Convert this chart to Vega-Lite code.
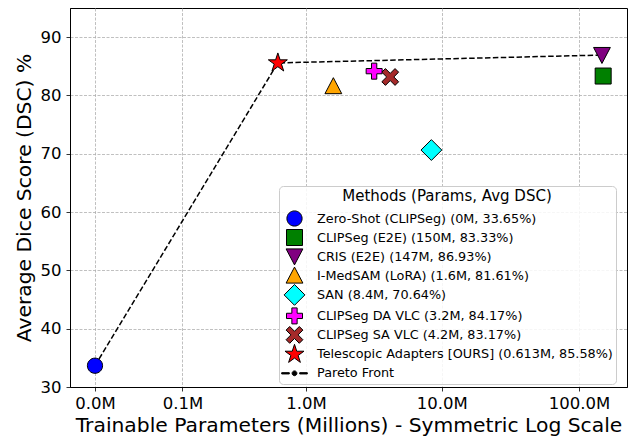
{
  "$schema": "https://vega.github.io/schema/vega-lite/v6.json",
  "width": 557,
  "height": 379,
  "autosize": {"type": "none"},
  "padding": {"left": 70, "top": 8, "right": 5, "bottom": 50},
  "background": "white",
  "datasets": {
    "methods": [
      {"label": "Zero-Shot (CLIPSeg) (0M, 33.65%)", "params": 0, "dsc": 33.65},
      {"label": "CLIPSeg (E2E) (150M, 83.33%)", "params": 150, "dsc": 83.33},
      {"label": "CRIS (E2E) (147M, 86.93%)", "params": 147, "dsc": 86.93},
      {"label": "I-MedSAM (LoRA) (1.6M, 81.61%)", "params": 1.6, "dsc": 81.61},
      {"label": "SAN (8.4M, 70.64%)", "params": 8.4, "dsc": 70.64},
      {"label": "CLIPSeg DA VLC (3.2M, 84.17%)", "params": 3.2, "dsc": 84.17},
      {"label": "CLIPSeg SA VLC (4.2M, 83.17%)", "params": 4.2, "dsc": 83.17},
      {"label": "Telescopic Adapters [OURS] (0.613M, 85.58%)", "params": 0.613, "dsc": 85.58}
    ],
    "pareto": [
      {"params": 0, "dsc": 33.65},
      {"params": 0.613, "dsc": 85.58},
      {"params": 147, "dsc": 86.93}
    ]
  },
  "layer": [
    {
      "data": {"name": "pareto"},
      "mark": {"type": "line", "color": "black", "strokeWidth": 1.5, "strokeDash": [5.5, 2.4]},
      "encoding": {
        "x": {"field": "params", "type": "quantitative"},
        "y": {"field": "dsc", "type": "quantitative"}
      }
    },
    {
      "data": {"name": "methods"},
      "mark": {"type": "point", "filled": true, "opacity": 1, "stroke": "black", "strokeWidth": 1, "size": 256},
      "encoding": {
        "x": {
          "field": "params", "type": "quantitative",
          "scale": {"type": "symlog", "constant": 0.03, "domain": [-0.0156, 223.7], "nice": false, "zero": false},
          "axis": {"values": [0, 0.1, 1, 10, 100], "labelExpr": "format(datum.value, '.1f') + 'M'", "title": "Trainable Parameters (Millions) - Symmetric Log Scale", "labelPadding": 4, "titlePadding": 4}
        },
        "y": {
          "field": "dsc", "type": "quantitative",
          "scale": {"domain": [30, 95], "nice": false, "zero": false},
          "axis": {"values": [30, 40, 50, 60, 70, 80, 90], "title": "Average Dice Score (DSC) %", "labelPadding": 5, "titlePadding": 6}
        },
        "color": {
          "field": "label", "type": "nominal",
          "scale": {
            "domain": ["Zero-Shot (CLIPSeg) (0M, 33.65%)", "CLIPSeg (E2E) (150M, 83.33%)", "CRIS (E2E) (147M, 86.93%)", "I-MedSAM (LoRA) (1.6M, 81.61%)", "SAN (8.4M, 70.64%)", "CLIPSeg DA VLC (3.2M, 84.17%)", "CLIPSeg SA VLC (4.2M, 83.17%)", "Telescopic Adapters [OURS] (0.613M, 85.58%)", "Pareto Front"],
            "range": ["#0000ff", "#008000", "#800080", "#ffa500", "#00ffff", "#ff00ff", "#a52a2a", "#ff0000", "#000000"]
          },
          "legend": {"title": "Methods (Params, Avg DSC)"}
        },
        "shape": {
          "field": "label", "type": "nominal",
          "scale": {
            "domain": ["Zero-Shot (CLIPSeg) (0M, 33.65%)", "CLIPSeg (E2E) (150M, 83.33%)", "CRIS (E2E) (147M, 86.93%)", "I-MedSAM (LoRA) (1.6M, 81.61%)", "SAN (8.4M, 70.64%)", "CLIPSeg DA VLC (3.2M, 84.17%)", "CLIPSeg SA VLC (4.2M, 83.17%)", "Telescopic Adapters [OURS] (0.613M, 85.58%)", "Pareto Front"],
            "range": [
              "M0.95,0A0.95,0.95,0,1,1,-0.95,0A0.95,0.95,0,1,1,0.95,0Z",
              "M-1,-1H1V1H-1Z",
              "M-1.05,-0.95L1.05,-0.95L0,1.05Z",
              "M0,-1.05L1.05,0.95L-1.05,0.95Z",
              "M0,-1.3L1.3,0L0,1.3L-1.3,0Z",
              "M-1,-0.33H-0.33V-1H0.33V-0.33H1V0.33H0.33V1H-0.33V0.33H-1Z",
              "M0,-0.45L0.6,-1.05L1.05,-0.6L0.45,0L1.05,0.6L0.6,1.05L0,0.45L-0.6,1.05L-1.05,0.6L-0.45,0L-1.05,-0.6L-0.6,-1.05Z",
              "M0,-1.25L0.281,-0.386L1.189,-0.386L0.454,0.147L0.735,1.011L0,0.477L-0.735,1.011L-0.454,0.147L-1.189,-0.386L-0.281,-0.386Z",
              "M-1.6,-0.08H-0.65V0.08H-1.6Z M0.65,-0.08H1.6V0.08H0.65Z M0.3,0A0.3,0.3,0,1,1,-0.3,0A0.3,0.3,0,1,1,0.3,0Z"
            ]
          },
          "legend": {"title": "Methods (Params, Avg DSC)"}
        }
      }
    }
  ],
  "config": {
    "font": "DejaVu Sans",
    "view": {"stroke": "black", "strokeWidth": 1},
    "axis": {
      "domainColor": "black", "domainWidth": 1,
      "tickColor": "black", "tickSize": 4, "tickWidth": 0.8,
      "labelFontSize": 16.5, "labelColor": "black",
      "titleFontSize": 20.3, "titleFontWeight": "normal", "titleColor": "black",
      "grid": true, "gridColor": "#b0b0b0", "gridDash": [3, 1.5], "gridWidth": 0.8
    },
    "legend": {
      "orient": "none", "legendX": 209, "legendY": 178,
      "titleFontSize": 15, "titleFontWeight": "normal", "titleColor": "black", "titleAnchor": "middle", "titleLimit": 500,
      "labelFontSize": 12.8, "labelColor": "black", "labelLimit": 500,
      "symbolSize": 256, "symbolStrokeColor": "black", "symbolStrokeWidth": 1,
      "symbolOffset": 4, "labelOffset": 14, "rowPadding": -3.6, "padding": 3, "titlePadding": 6,
      "fillColor": "rgba(255,255,255,0.85)", "strokeColor": "#cccccc", "cornerRadius": 4
    }
  }
}
